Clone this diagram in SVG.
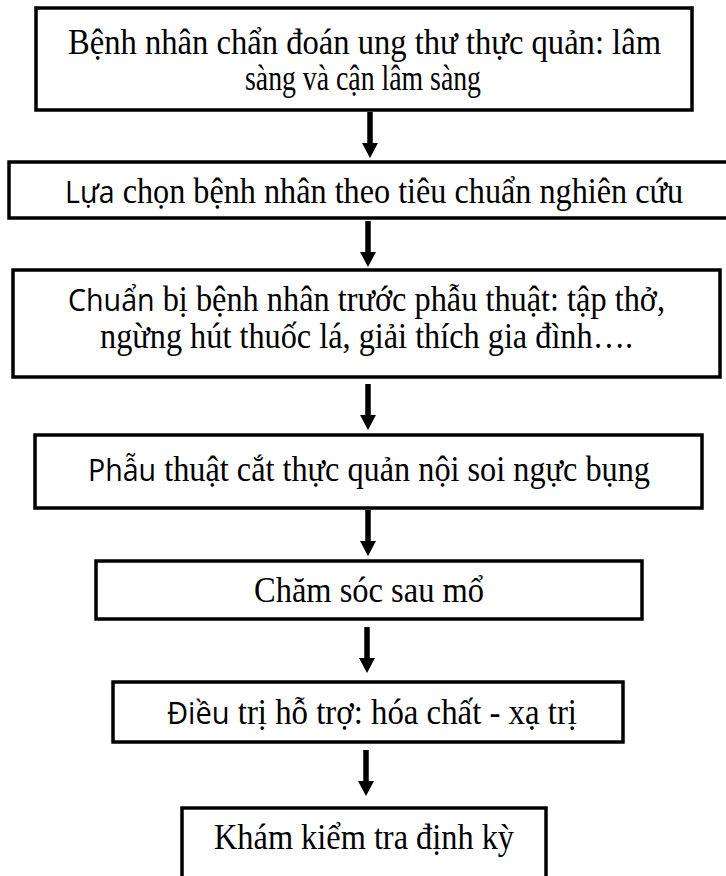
<svg xmlns="http://www.w3.org/2000/svg" width="726" height="876" viewBox="0 0 726 876">
<style>
.box{fill:#fff;stroke:#000;stroke-width:3.5}
.t{font-family:"Liberation Serif","Times New Roman",serif;font-size:35px;fill:#000;text-anchor:middle}
.s{font-family:"Open Sans","Liberation Sans",sans-serif;font-size:31px}
.arr{fill:#000}
</style>
<defs>
<g id="arrow"><rect x="-2.75" y="0" width="5.5" height="32" class="arr"/><polygon points="-8,31 8,31 0,46" class="arr"/></g>
</defs>
<rect width="726" height="876" fill="#fff"/>
<g id="n1"><rect class="box" x="36" y="8" width="656" height="102"/>
<text class="t" x="364.5" y="54" textLength="593" lengthAdjust="spacingAndGlyphs">Bệnh nhân chẩn đoán ung thư thực quản: lâm</text>
<text class="t" x="363" y="90" textLength="236" lengthAdjust="spacingAndGlyphs">sàng và cận lâm sàng</text></g>
<g id="n2"><rect class="box" x="9" y="162" width="720" height="56"/>
<text class="t" x="374" y="203" textLength="618" lengthAdjust="spacingAndGlyphs"><tspan class="s">Lựa</tspan> chọn bệnh nhân theo tiêu chuẩn nghiên cứu</text></g>
<g id="n3"><rect class="box" x="13" y="270" width="707" height="107"/>
<text class="t" x="366.5" y="311" textLength="597" lengthAdjust="spacingAndGlyphs"><tspan class="s">Chuẩn</tspan> bị bệnh nhân trước phẫu thuật: tập thở,</text>
<text class="t" x="366.5" y="348" textLength="533" lengthAdjust="spacingAndGlyphs">ngừng hút thuốc lá, giải thích gia đình….</text></g>
<g id="n4"><rect class="box" x="35" y="435" width="667" height="73"/>
<text class="t" x="369" y="481" textLength="562" lengthAdjust="spacingAndGlyphs"><tspan class="s">Phẫu</tspan> thuật cắt thực quản nội soi ngực bụng</text></g>
<g id="n5"><rect class="box" x="96" y="561" width="546" height="58"/>
<text class="t" x="369" y="602" textLength="230" lengthAdjust="spacingAndGlyphs">Chăm sóc sau mổ</text></g>
<g id="n6"><rect class="box" x="113" y="682" width="510" height="60"/>
<text class="t" x="372" y="724" textLength="410" lengthAdjust="spacingAndGlyphs"><tspan class="s">Điều</tspan> trị hỗ trợ: hóa chất - xạ trị</text></g>
<g id="n7"><rect class="box" x="182" y="808" width="364" height="90"/>
<text class="t" x="364" y="849" textLength="300" lengthAdjust="spacingAndGlyphs">Khám kiểm tra định kỳ</text></g>
<g id="connectors">
<use href="#arrow" x="370" y="112"/>
<use href="#arrow" x="368" y="221"/>
<use href="#arrow" x="368" y="384"/>
<use href="#arrow" x="368" y="510"/>
<use href="#arrow" x="367" y="627"/>
<use href="#arrow" x="366" y="750"/>
</g>
</svg>
